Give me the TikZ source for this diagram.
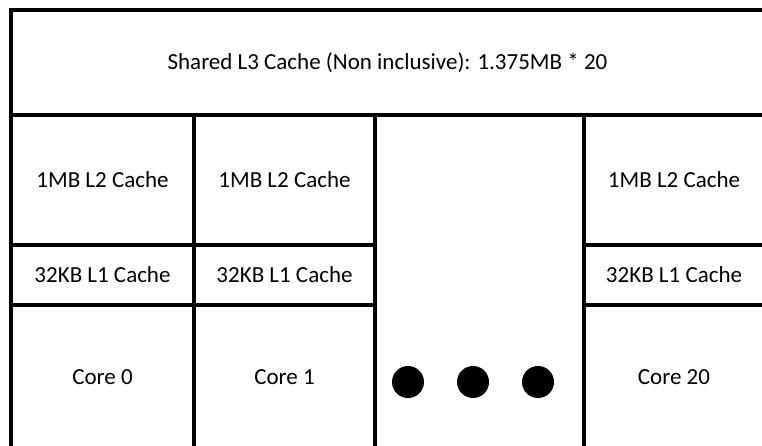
\documentclass[tikz,border=0pt]{standalone}
\usepackage{fontspec}
\setmainfont{Carlito}
\usetikzlibrary{positioning}

\begin{document}
\begin{tikzpicture}[x=1pt,y=-1pt,
	cell/.style={draw=black, line width=4.5pt, rectangle, inner sep=0pt,
		font=\fontsize{23}{27}\selectfont},
	bigdot/.style={circle, fill=black, minimum size=32pt, inner sep=0pt}]

\useasboundingbox (0,0) rectangle (762,446);

% Shared cache on top
\node[cell, minimum width=753, minimum height=105] (l3) at (387.5,62.5) {Shared L3 Cache (Non inclusive): 1.375MB * 20};

% Per core columns
\node[cell, minimum width=183, minimum height=130] (l2a) at (102.5,180) {1MB L2 Cache};
\node[cell, minimum width=181, minimum height=130] (l2b) at (284.5,180) {1MB L2 Cache};
\node[cell, minimum width=180, minimum height=130] (l2n) at (674,180) {1MB L2 Cache};

\node[cell, minimum width=183, minimum height=60] (l1a) at (102.5,275) {32KB L1 Cache};
\node[cell, minimum width=181, minimum height=60] (l1b) at (284.5,275) {32KB L1 Cache};
\node[cell, minimum width=180, minimum height=60] (l1n) at (674,275) {32KB L1 Cache};

\node[cell, minimum width=183, minimum height=144] (core0) at (102.5,377) {Core 0};
\node[cell, minimum width=181, minimum height=144] (core1) at (284.5,377) {Core 1};
\node[cell, minimum width=180, minimum height=144] (coren) at (674,377) {Core 20};

% Gap column with the dots
\node[cell, minimum width=209, minimum height=334] (gap) at (479.5,282) {};

\foreach \x/\n in {408/1,473/2,538/3}{
	\node[bigdot] (dot\n) at (\x,382) {};
}

\end{tikzpicture}
\end{document}
